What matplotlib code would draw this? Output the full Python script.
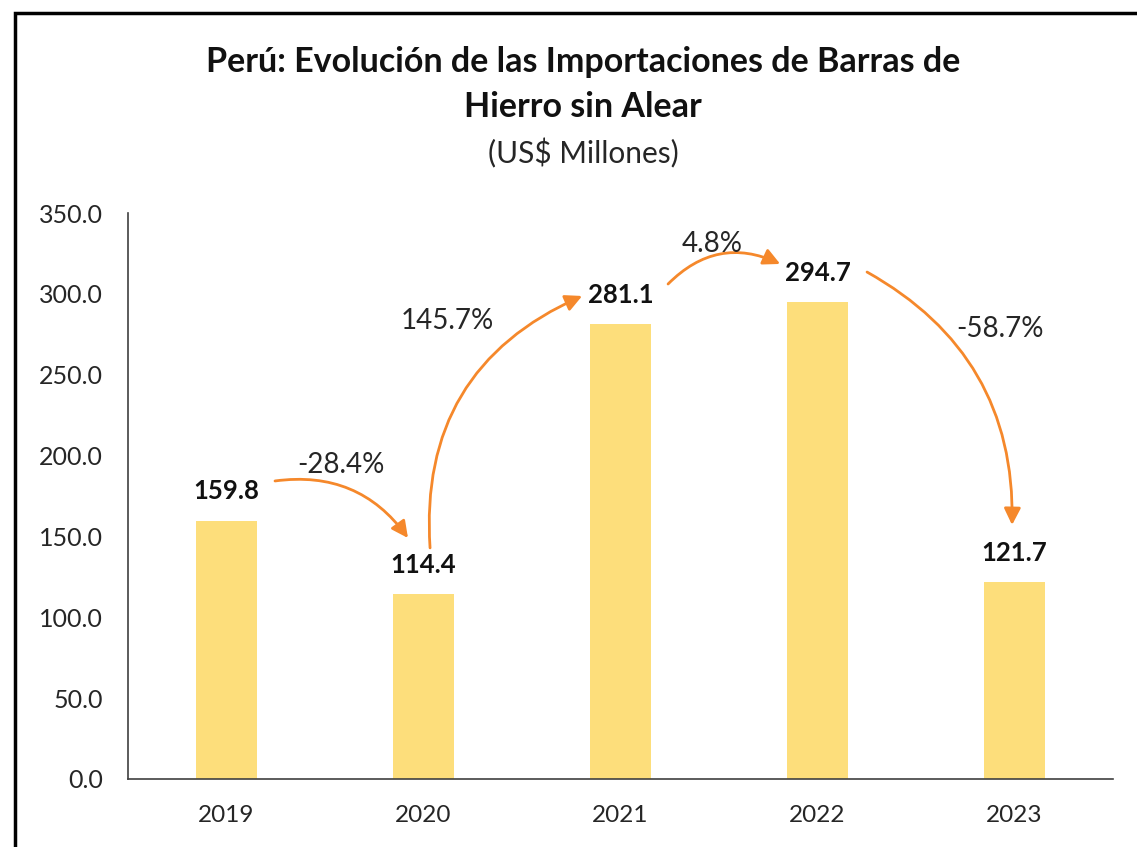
import matplotlib
matplotlib.use("Agg")
import matplotlib.pyplot as plt
from matplotlib.patches import Rectangle

plt.rcParams['font.family'] = ['Lato', 'DejaVu Sans']

years = ['2019', '2020', '2021', '2022', '2023']
values = [159.8, 114.4, 281.1, 294.7, 121.7]
changes = ['-28.4%', '145.7%', '4.8%', '-58.7%']
yticks = [0, 50, 100, 150, 200, 250, 300, 350]

bar_color = '#FDDE7B'
arrow_color = '#F5882B'
text_color = '#262626'

fig = plt.figure(figsize=(11.37, 8.47), dpi=100)
ax = fig.add_axes([0.1126, 0.0803, 0.8664, 0.6682])

x = list(range(len(years)))
ax.bar(x, values, width=0.31, color=bar_color, zorder=2)

ax.set_xlim(-0.5, len(years) - 0.5)
ax.set_ylim(0, 350)
ax.set_yticks(yticks)
ax.set_yticklabels([f'{v:.1f}' for v in yticks], fontsize=18, color=text_color)
ax.set_xticks(x)
ax.set_xticklabels(years, fontsize=17.5, color=text_color)
ax.tick_params(axis='y', length=0, pad=18)
ax.tick_params(axis='x', length=0, pad=19)
for s in ['top', 'right']:
    ax.spines[s].set_visible(False)
ax.spines['left'].set_color('#404040')
ax.spines['bottom'].set_color('#404040')
ax.spines['left'].set_linewidth(1.2)
ax.spines['bottom'].set_linewidth(1.2)

# value labels above bars
for xi, v in zip(x, values):
    ax.annotate(f'{v:.1f}', (xi, v), xytext=(0, 21), textcoords='offset points',
                ha='center', va='center', fontsize=18.5, fontweight='bold', color='#111111')

# growth arrows: (start), (end), rad
arrows = [
    ((0.246, 184.3), (0.921, 149.0), -0.3),
    ((1.033, 142.9), (1.805, 298.7), -0.35),
    ((2.241, 306.1), (2.810, 318.5), -0.35),
    ((3.251, 313.5), (3.987, 157.1), -0.3),
]
for (p0, p1, rad) in arrows:
    ax.annotate('', xy=p1, xytext=p0,
                arrowprops=dict(arrowstyle='-|>', color=arrow_color, lw=2,
                                mutation_scale=25, shrinkA=0, shrinkB=0,
                                connectionstyle=f'arc3,rad={rad}'))

label_pos = [(0.579, 194.2), (1.122, 283.4), (2.464, 331.0), (3.926, 278.3)]
for (lx, ly), t in zip(label_pos, changes):
    ax.text(lx, ly, t, ha='center', va='center', fontsize=20, color=text_color)

fig.text(0.513, 0.927, 'Perú: Evolución de las Importaciones de Barras de',
         ha='center', va='center', fontsize=24.5, fontweight='bold', color='#111111')
fig.text(0.513, 0.874, 'Hierro sin Alear', ha='center', va='center',
         fontsize=24.5, fontweight='bold', color='#111111')
fig.text(0.513, 0.819, '(US$ Millones)', ha='center', va='center',
         fontsize=21.5, color=text_color)

# outer frame, cut off at the right and bottom edges
fig.patches.append(Rectangle((15 / 1137, -0.2), 1.2, 1.2 - 12.5 / 847,
                             transform=fig.transFigure, fill=False,
                             edgecolor='black', lw=2.5))

fig.savefig('out.png', dpi=100)
